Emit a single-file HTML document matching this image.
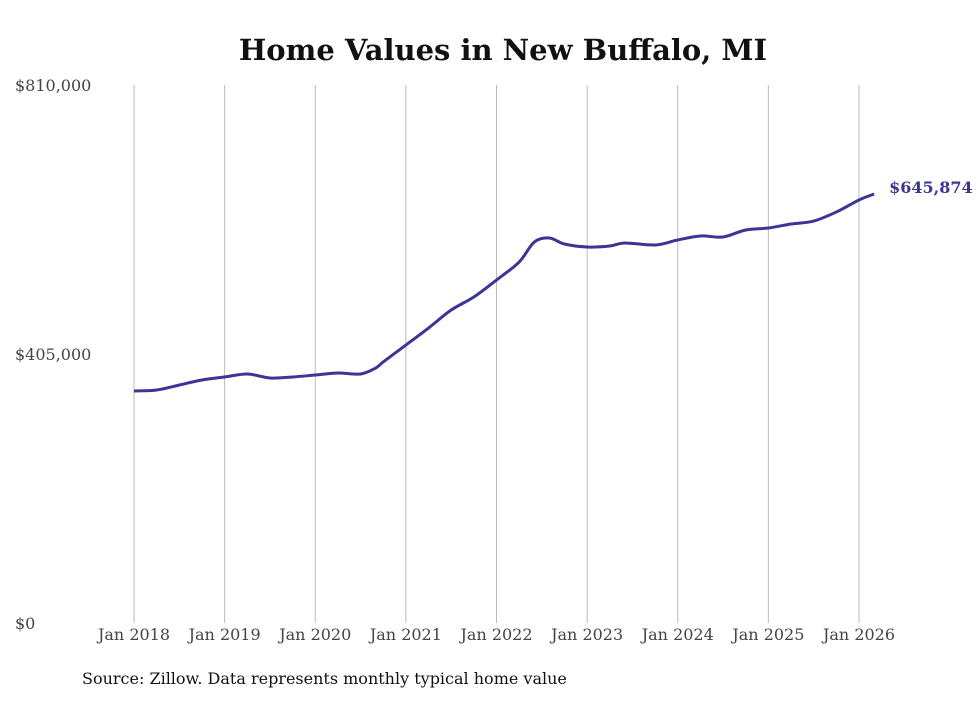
<!DOCTYPE html>
<html><head><meta charset="utf-8"><style>
body{margin:0;background:#fff;}
svg text{font-family:"DejaVu Serif","Liberation Serif",serif;}
</style></head><body>
<svg width="980" height="699" viewBox="0 0 980 699" xmlns="http://www.w3.org/2000/svg">
<rect width="980" height="699" fill="#fff"/>
<text x="503" y="60" text-anchor="middle" font-size="29" font-weight="bold" fill="#111">Home Values in New Buffalo, MI</text>
<g id="grid"></g><g id="yax"></g><g id="xax"></g>
<path id="line" fill="none" stroke="#3b3596" stroke-width="3"/>
<text id="endlbl" font-size="16" font-weight="bold" fill="#3b3596"></text>
<text x="82" y="684" font-size="16" fill="#111">Source: Zillow. Data represents monthly typical home value</text>
</svg>
<script>
const months=[0,3,6,9,12,15,18,21,24,27,30,32,33,36,39,42,45,48,51,53,55,57,60,63,65,69,72,75,78,81,84,87,90,93,96,98];
const values=[349300,350800,358300,365900,370400,374900,368900,370400,373400,376400,374900,383900,393000,418500,444100,471200,490800,516400,543500,573600,579700,570600,566100,567600,572200,569100,576700,582700,581200,591700,594700,600700,605200,618800,636900,645874];
const yTicks=[0,405000,810000];
const yTickLabels=["$0","$405,000","$810,000"];
const xTickLabels=["Jan 2018","Jan 2019","Jan 2020","Jan 2021","Jan 2022","Jan 2023","Jan 2024","Jan 2025","Jan 2026"];
const endLabel="$645,874";
const x=m=>134+m*(725/96);
const y=v=>623-v*(538/810000);
const NS="http://www.w3.org/2000/svg";
function mk(t,a,p){const e=document.createElementNS(NS,t);for(const k in a)e.setAttribute(k,a[k]);p.appendChild(e);return e;}
const grid=document.getElementById('grid'),yax=document.getElementById('yax'),xax=document.getElementById('xax');
xTickLabels.forEach((l,i)=>{const xx=x(i*12);
 const g=mk('line',{x1:xx,x2:xx,y1:85,y2:623,stroke:'#bbb','stroke-width':1},grid);
 
 
 const t=mk('text',{x:xx,y:640,'text-anchor':'middle','font-size':16,fill:'#444'},xax);t.textContent=l;
 
 
});
yTicks.forEach((v,i)=>{const t=mk('text',{x:15,y:y(v)+6,'font-size':16,fill:'#444'},yax);t.textContent=yTickLabels[i];
 
 
});
const pts=months.map((m,i)=>[x(m),y(values[i])]);
let d='M'+pts[0][0]+','+pts[0][1];
for(let i=0;i<pts.length-1;i++){const p0=pts[Math.max(0,i-1)],p1=pts[i],p2=pts[i+1],p3=pts[Math.min(pts.length-1,i+2)];
 const c1=[p1[0]+(p2[0]-p0[0])/6,p1[1]+(p2[1]-p0[1])/6],c2=[p2[0]-(p3[0]-p1[0])/6,p2[1]-(p3[1]-p1[1])/6];
 d+=` C${c1[0]},${c1[1]} ${c2[0]},${c2[1]} ${p2[0]},${p2[1]}`;}
document.getElementById('line').setAttribute('d',d);
const last=pts[pts.length-1],el=document.getElementById('endlbl');
el.setAttribute('x',last[0]+15);el.setAttribute('y',last[1]-1);el.textContent=endLabel;
</script>
</body></html>
